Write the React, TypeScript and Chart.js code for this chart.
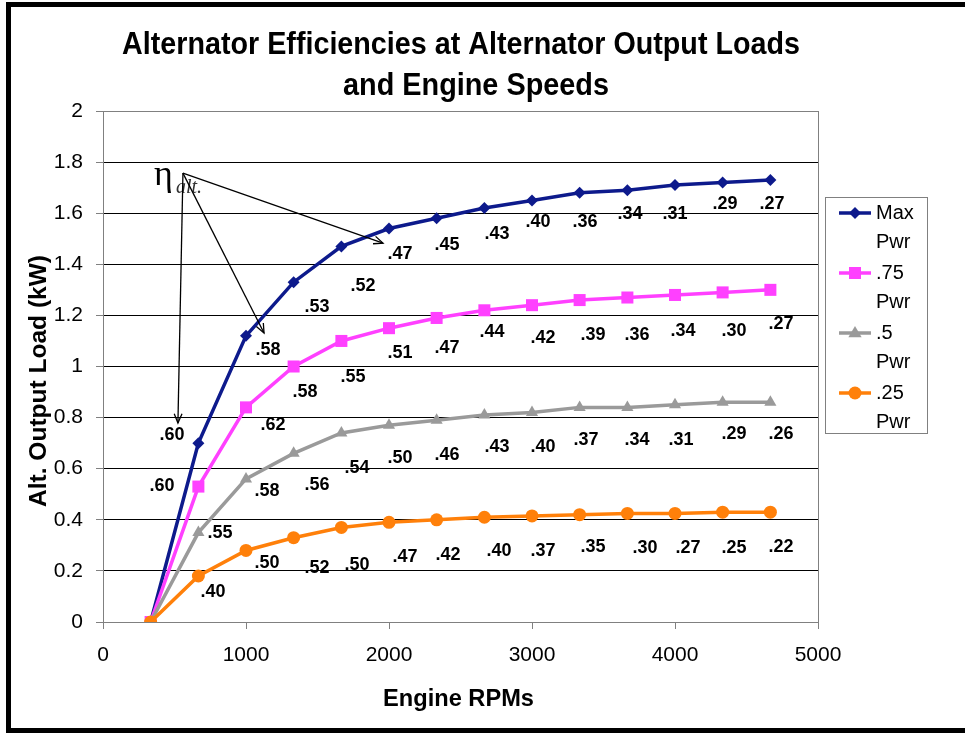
import React, { useEffect, useRef } from "react";
import { Chart, registerables } from "chart.js";

Chart.register(...registerables);

// ---------- data ----------
const rpm = [333, 667, 1000, 1333, 1667, 2000, 2333, 2667, 3000, 3333, 3667, 4000, 4333, 4667];
const maxPwr = [0, 0.70, 1.12, 1.33, 1.47, 1.54, 1.58, 1.62, 1.65, 1.68, 1.69, 1.71, 1.72, 1.73];
const pwr75 = [0, 0.53, 0.84, 1.0, 1.1, 1.15, 1.19, 1.22, 1.24, 1.26, 1.27, 1.28, 1.29, 1.3];
const pwr50 = [0, 0.35, 0.56, 0.66, 0.74, 0.77, 0.79, 0.81, 0.82, 0.84, 0.84, 0.85, 0.86, 0.86];
const pwr25 = [0, 0.18, 0.28, 0.33, 0.37, 0.39, 0.4, 0.41, 0.415, 0.42, 0.425, 0.425, 0.43, 0.43];

const seriesNames = [["Max", "Pwr"], [".75", "Pwr"], [".5", "Pwr"], [".25", "Pwr"]];
const seriesColors = ["#0d1a8c", "#ff40ff", "#9a9a9a", "#ff800a"];
const seriesMarkers = ["rectRot", "rect", "triangle", "circle"];

const titleLines = ["Alternator Efficiencies at Alternator Output Loads", "and Engine Speeds"];
const xTitle = "Engine RPMs";
const yTitle = "Alt. Output Load (kW)";
const xTicks = [0, 1000, 2000, 3000, 4000, 5000];
const yTicks = [0, 0.2, 0.4, 0.6, 0.8, 1, 1.2, 1.4, 1.6, 1.8, 2];

// efficiency annotations (text, anchor rpm, anchor load)
const effText = [
  ".60", ".58", ".53", ".52", ".47", ".45", ".43", ".40", ".36", ".34", ".31", ".29", ".27",
  ".62", ".58", ".55", ".51", ".47", ".44", ".42", ".39", ".36", ".34", ".30", ".27",
  ".60", ".58", ".56", ".54", ".50", ".46", ".43", ".40", ".37", ".34", ".31", ".29", ".26",
  ".55", ".40", ".50", ".52", ".50", ".47", ".42", ".40", ".37", ".35", ".30", ".27", ".25", ".22",
];
const effRpm = [
  482, 1154, 1497, 1818, 2077, 2406, 2755, 3042, 3371, 3685, 4000, 4350, 4678,
  1189, 1413, 1748, 2077, 2406, 2720, 3077, 3427, 3734, 4056, 4413, 4741,
  413, 1147, 1497, 1776, 2077, 2406, 2755, 3077, 3378, 3734, 4042, 4413, 4741,
  818, 769, 1147, 1497, 1776, 2112, 2413, 2769, 3077, 3427, 3790, 4091, 4413, 4741,
];
const effLoad = [
  0.732, 1.065, 1.233, 1.315, 1.44, 1.477, 1.518, 1.566, 1.566, 1.597, 1.597, 1.636, 1.636,
  0.771, 0.9, 0.959, 1.053, 1.072, 1.135, 1.112, 1.123, 1.123, 1.139, 1.139, 1.166,
  0.532, 0.513, 0.536, 0.603, 0.642, 0.654, 0.685, 0.685, 0.712, 0.712, 0.712, 0.736, 0.736,
  0.348, 0.117, 0.231, 0.211, 0.223, 0.254, 0.262, 0.278, 0.278, 0.294, 0.29, 0.29, 0.29, 0.294,
];

// eta callout: arrows from a common origin
const etaOrigin = [559, 1.757];
const arrowRpm = [524, 1126, 1958];
const arrowLoad = [0.779, 1.131, 1.483];

const FONT = "'Liberation Sans', Arial, sans-serif";
const SERIF = "'Liberation Serif', 'DejaVu Serif', serif";

function drawMarker(ctx: CanvasRenderingContext2D, style: string, x: number, y: number, r: number) {
  ctx.beginPath();
  if (style === "rectRot") {
    ctx.moveTo(x - r, y);
    ctx.lineTo(x, y - r);
    ctx.lineTo(x + r, y);
    ctx.lineTo(x, y + r);
    ctx.closePath();
  } else if (style === "rect") {
    const s = r * Math.SQRT1_2;
    ctx.rect(x - s, y - s, 2 * s, 2 * s);
  } else if (style === "triangle") {
    ctx.moveTo(x, y - r);
    ctx.lineTo(x + r * 0.95, y + r * 0.6);
    ctx.lineTo(x - r * 0.95, y + r * 0.6);
    ctx.closePath();
  } else {
    ctx.arc(x, y, r, 0, Math.PI * 2);
  }
  ctx.fill();
}

function scaledText(ctx: CanvasRenderingContext2D, text: string, left: number, right: number, baseline: number, font: string) {
  ctx.font = font;
  const w = ctx.measureText(text).width;
  ctx.save();
  ctx.translate(left, baseline);
  ctx.scale((right - left) / w, 1);
  ctx.textAlign = "left";
  ctx.textBaseline = "alphabetic";
  ctx.fillText(text, 0, 0);
  ctx.restore();
}

function arrow(ctx: CanvasRenderingContext2D, x0: number, y0: number, x1: number, y1: number) {
  ctx.beginPath();
  ctx.moveTo(x0, y0);
  ctx.lineTo(x1, y1);
  ctx.stroke();
  const a = Math.atan2(y1 - y0, x1 - x0);
  const L = 10;
  const s = 0.4;
  ctx.beginPath();
  ctx.moveTo(x1 - L * Math.cos(a - s), y1 - L * Math.sin(a - s));
  ctx.lineTo(x1, y1);
  ctx.lineTo(x1 - L * Math.cos(a + s), y1 - L * Math.sin(a + s));
  ctx.stroke();
}

const markerRadius = [6, 8.5, 7, 6.5];

const decor = {
  id: "decor",
  afterDraw(chart: any) {
    const { ctx, chartArea: ca, scales } = chart;
    const xs = scales.x;
    const ys = scales.y;
    ctx.save();

    // plot border
    ctx.strokeStyle = "#808080";
    ctx.lineWidth = 1;
    ctx.strokeRect(ca.left + 0.5, ca.top + 0.5, ca.right - ca.left, ca.bottom - ca.top);

    // outer frame
    ctx.strokeStyle = "#000";
    ctx.lineWidth = 5;
    ctx.strokeRect(8.5, 4.5, 1000, 726);

    // title
    ctx.fillStyle = "#000";
    scaledText(ctx, titleLines[0], 122, 800, 54, `bold 31px ${FONT}`);
    scaledText(ctx, titleLines[1], 343, 609, 95, `bold 31px ${FONT}`);

    // axis titles
    scaledText(ctx, xTitle, 383, 534, 706, `bold 24px ${FONT}`);
    ctx.save();
    ctx.translate(46, 507);
    ctx.rotate(-Math.PI / 2);
    scaledText(ctx, yTitle, 0, 252, 0, `bold 24px ${FONT}`);
    ctx.restore();

    // efficiency labels
    ctx.font = `bold 18px ${FONT}`;
    ctx.textAlign = "center";
    ctx.textBaseline = "middle";
    ctx.fillStyle = "#000";
    for (let i = 0; i < effText.length; i++) {
      ctx.fillText(effText[i], xs.getPixelForValue(effRpm[i]), ys.getPixelForValue(effLoad[i]));
    }

    // eta callout
    const ox = xs.getPixelForValue(etaOrigin[0]);
    const oy = ys.getPixelForValue(etaOrigin[1]);
    ctx.fillStyle = "#000";
    ctx.textAlign = "left";
    ctx.textBaseline = "alphabetic";
    ctx.font = `36px ${SERIF}`;
    ctx.fillText("\u03B7", ox - 29, oy + 12);
    ctx.fillStyle = "#333";
    ctx.font = `italic 20px ${SERIF}`;
    ctx.fillText("alt.", ox - 7, oy + 20);
    ctx.strokeStyle = "#000";
    ctx.lineWidth = 1.3;
    for (let i = 0; i < arrowRpm.length; i++) {
      arrow(ctx, ox, oy, xs.getPixelForValue(arrowRpm[i]), ys.getPixelForValue(arrowLoad[i]));
    }

    // legend
    const lx = ca.right + 7;
    const ly = 197;
    ctx.fillStyle = "#fff";
    ctx.fillRect(lx, ly, 102, 236);
    ctx.strokeStyle = "#808080";
    ctx.lineWidth = 1;
    ctx.strokeRect(lx + 0.5, ly + 0.5, 102, 236);
    ctx.font = `20px ${FONT}`;
    ctx.textBaseline = "middle";
    ctx.textAlign = "left";
    for (let i = 0; i < seriesNames.length; i++) {
      const cy = ly + 16 + i * 60;
      ctx.strokeStyle = seriesColors[i];
      ctx.lineWidth = 3.5;
      ctx.beginPath();
      ctx.moveTo(lx + 14, cy);
      ctx.lineTo(lx + 46, cy);
      ctx.stroke();
      ctx.fillStyle = seriesColors[i];
      drawMarker(ctx, seriesMarkers[i], lx + 30, cy, markerRadius[i]);
      ctx.fillStyle = "#000";
      ctx.fillText(seriesNames[i][0], lx + 51, cy);
      ctx.fillText(seriesNames[i][1], lx + 51, cy + 29);
    }
    ctx.restore();
  },
};

function toPoints(ys: number[]) {
  return rpm.map((x, i) => ({ x, y: ys[i] }));
}

export default function App() {
  const ref = useRef<HTMLCanvasElement>(null);
  useEffect(() => {
    const seriesData = [maxPwr, pwr75, pwr50, pwr25];
    const chart = new Chart(ref.current!, {
      type: "line",
      data: {
        datasets: seriesData.map((d, i) => ({
          label: seriesNames[i].join(" "),
          data: toPoints(d),
          borderColor: seriesColors[i],
          backgroundColor: seriesColors[i],
          borderWidth: 3.5,
          pointStyle: seriesMarkers[i] as any,
          pointRadius: markerRadius[i],
          pointBorderWidth: 0,
          pointBackgroundColor: seriesColors[i],
          tension: 0,
          order: 3 - i,
        })),
      },
      options: {
        animation: false,
        responsive: false,
        devicePixelRatio: 1,
        layout: { padding: { left: 0, top: 111, right: 147, bottom: 0 } },
        plugins: {
          legend: { display: false },
          title: { display: false },
          tooltip: { enabled: false },
        },
        scales: {
          x: {
            type: "linear",
            min: 0,
            max: 5000,
            afterFit: (s: any) => { s.height = 111; },
            afterBuildTicks: (s: any) => { s.ticks = xTicks.map((v) => ({ value: v })); },
            ticks: {
              color: "#000",
              font: { family: FONT, size: 21 },
              padding: 14,
              maxRotation: 0,
              callback: (v: any) => String(v),
            },
            grid: {
              drawOnChartArea: false,
              drawTicks: true,
              tickLength: 7,
              tickColor: "#808080",
            },
            border: { color: "#808080", width: 1 },
          },
          y: {
            type: "linear",
            min: 0,
            max: 2,
            afterFit: (s: any) => { s.width = 103; },
            afterBuildTicks: (s: any) => { s.ticks = yTicks.map((v) => ({ value: v })); },
            ticks: {
              color: "#000",
              font: { family: FONT, size: 21 },
              padding: 13,
              callback: (v: any) => String(Number(Number(v).toFixed(1))),
            },
            grid: {
              color: "#000",
              lineWidth: 1,
              drawTicks: true,
              tickLength: 7,
              tickColor: "#808080",
            },
            border: { color: "#808080", width: 1 },
          },
        },
      },
      plugins: [decor],
    });
    return () => chart.destroy();
  }, []);
  return (
    <div style={{ position: "absolute", left: 0, top: 0, width: 965, height: 733, background: "#fff" }}>
      <canvas ref={ref} width={965} height={733} style={{ display: "block", width: 965, height: 733 }} />
    </div>
  );
}
